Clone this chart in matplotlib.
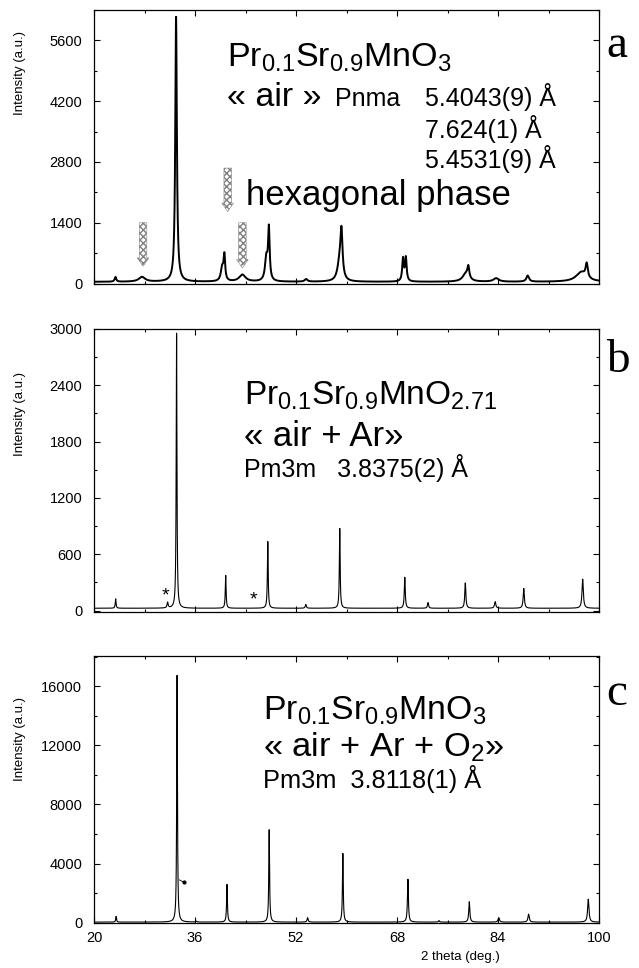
import numpy as np
import matplotlib
matplotlib.use("Agg")
from matplotlib import pyplot as plt
from matplotlib.ticker import AutoMinorLocator

plt.rcParams['font.family'] = ['Liberation Sans', 'DejaVu Sans']
plt.rcParams['mathtext.default'] = 'regular'

# ---- peak tables (2theta, height, fwhm) ----
pos_a = [23.4, 27.6, 33.0, 40.3, 40.65, 43.5, 47.3, 47.7, 53.6, 58.9, 59.2, 68.95, 69.4, 78.9, 79.3, 83.7, 88.7, 97.2, 98.05]
height_a = [110, 110, 6100, 300, 570, 160, 520, 1170, 60, 400, 1030, 520, 540, 180, 260, 80, 140, 220, 320]
fwhm_a = [0.3, 1.2, 0.3, 0.5, 0.3, 1.2, 0.5, 0.3, 0.5, 0.8, 0.4, 0.3, 0.3, 1.2, 0.35, 1.0, 0.5, 2.0, 0.4]
base_a = 40

pos_b = [23.43, 31.66, 33.08, 40.86, 47.53, 53.55, 58.93, 69.23, 72.92, 78.82, 83.55, 88.08, 97.41]
height_b = [100, 60, 2930, 350, 710, 40, 850, 330, 60, 270, 70, 210, 310]
fwhm_b = [0.15, 0.2, 0.14, 0.15, 0.15, 0.2, 0.15, 0.18, 0.2, 0.2, 0.25, 0.22, 0.25]
base_b = 25

pos_c = [23.5, 33.16, 36.2, 41.07, 47.75, 53.84, 59.42, 69.73, 74.65, 79.45, 84.12, 88.85, 98.3]
height_c = [380, 16700, 60, 2550, 6250, 300, 4650, 2900, 100, 1380, 300, 540, 1550]
fwhm_c = [0.15, 0.14, 0.2, 0.15, 0.15, 0.2, 0.15, 0.18, 0.2, 0.2, 0.25, 0.25, 0.25]
base_c = 40

x_ticks = [20, 36, 52, 68, 84, 100]
y_ticks_a = [0, 1400, 2800, 4200, 5600]
y_ticks_b = [0, 600, 1200, 1800, 2400, 3000]
y_ticks_c = [0, 4000, 8000, 12000, 16000]

tt = np.arange(20, 100.001, 0.01)


def pattern(pos, h, w, base):
    y = np.full_like(tt, float(base))
    for p, hh, ww in zip(pos, h, w):
        y += hh / (1 + ((tt - p) / (ww / 2)) ** 2)
    return y


W, H = 639, 968
fig = plt.figure(figsize=(W / 100, H / 100), dpi=100)

left = 94 / W
width = 505 / W
ax_a = fig.add_axes([left, 1 - 284 / H, width, 274 / H])
ax_b = fig.add_axes([left, 1 - 612 / H, width, 283 / H])
ax_c = fig.add_axes([left, 1 - 923 / H, width, 267 / H])

ax_a.plot(tt, pattern(pos_a, height_a, fwhm_a, base_a), color='black', lw=1.4)
ax_b.plot(tt, pattern(pos_b, height_b, fwhm_b, base_b), color='black', lw=0.8)
ax_c.plot(tt, pattern(pos_c, height_c, fwhm_c, base_c), color='black', lw=0.8)

ax_a.set_ylim(-10, 6300)
ax_b.set_ylim(-15, 3000)
ax_c.set_ylim(-20, 18050)

for ax, yt, ly in [(ax_a, y_ticks_a, 0.77), (ax_b, y_ticks_b, 0.70), (ax_c, y_ticks_c, 0.69)]:
    ax.set_xlim(20, 100)
    ax.set_xticks(x_ticks)
    ax.set_yticks(yt)
    ax.xaxis.set_minor_locator(AutoMinorLocator(2))
    ax.yaxis.set_minor_locator(AutoMinorLocator(2))
    ax.tick_params(which='both', direction='in', top=True, right=True, labelsize=10.5, pad=8.5, width=0.8)
    ax.tick_params(which='major', length=4)
    ax.tick_params(which='minor', length=2)
    for s in ax.spines.values():
        s.set_linewidth(0.9)
    ax.set_ylabel('Intensity (a.u.)', fontsize=9.5)
    ax.yaxis.set_label_coords(-0.135, ly)
    if ax is not ax_c:
        ax.tick_params(labelbottom=False)

ax_c.tick_params(axis='x', pad=6)
ax_c.set_xlabel('2 theta (deg.)', fontsize=9.5)
ax_c.xaxis.set_label_coords(0.725, -0.105)

# ---- panel a annotations ----
ax_a.text(41.05, 5000, 'Pr$_{0.1}$Sr$_{0.9}$MnO$_3$', fontsize=24.5)
ax_a.text(41.05, 4080, '« air »', fontsize=24.5)
ax_a.text(58.2, 4080, 'Pnma', fontsize=18)
ax_a.text(72.5, 4080, '5.4043(9) Å', fontsize=18)
ax_a.text(72.5, 3350, '7.624(1) Å', fontsize=18)
ax_a.text(72.5, 2660, '5.4531(9) Å', fontsize=18)
ax_a.text(44.0, 1820, 'hexagonal phase', fontsize=25)

arrow_x = [27.77, 41.18, 43.51]
arrow_top = [1400, 2660, 1400]
arrow_tip = [400, 1660, 360]
for xa, yt0, yt1 in zip(arrow_x, arrow_top, arrow_tip):
    ax_a.annotate('', xy=(xa, yt1), xytext=(xa, yt0),
                  arrowprops=dict(arrowstyle='simple,head_width=0.7,head_length=0.5,tail_width=0.45',
                                  fc='white', ec='0.5', hatch='xxxxx', lw=0.4,
                                  mutation_scale=12, shrinkA=0, shrinkB=0))

# ---- panel b annotations ----
ax_b.text(43.84, 2198, 'Pr$_{0.1}$Sr$_{0.9}$MnO$_{2.71}$', fontsize=24)
ax_b.text(43.84, 1758, '« air + Ar»', fontsize=25)
ax_b.text(43.84, 1424, 'Pm3m   3.8375(2) Å', fontsize=18)
ax_b.text(31.4, 110, '*', fontsize=14, ha='center')
ax_b.text(45.3, 70, '*', fontsize=14, ha='center')

# ---- panel c annotations ----
ax_c.text(46.7, 13746, 'Pr$_{0.1}$Sr$_{0.9}$MnO$_3$', fontsize=24.3)
ax_c.text(46.7, 11268, '« air + Ar + O$_2$»', fontsize=24.8)
ax_c.text(46.7, 9127, 'Pm3m  3.8118(1) Å', fontsize=18.3)
ax_c.plot([33.5, 34.2], [2900, 2750], color='black', lw=0.6)
ax_c.plot([34.3], [2750], marker='o', ms=2, color='black')

# ---- panel letters ----
for lab, yb in [('a', 57), ('b', 372), ('c', 705)]:
    fig.text(606 / W, 1 - yb / H, lab, fontsize=34, family='Liberation Serif', va='baseline')

fig.savefig('out.png', dpi=100)
